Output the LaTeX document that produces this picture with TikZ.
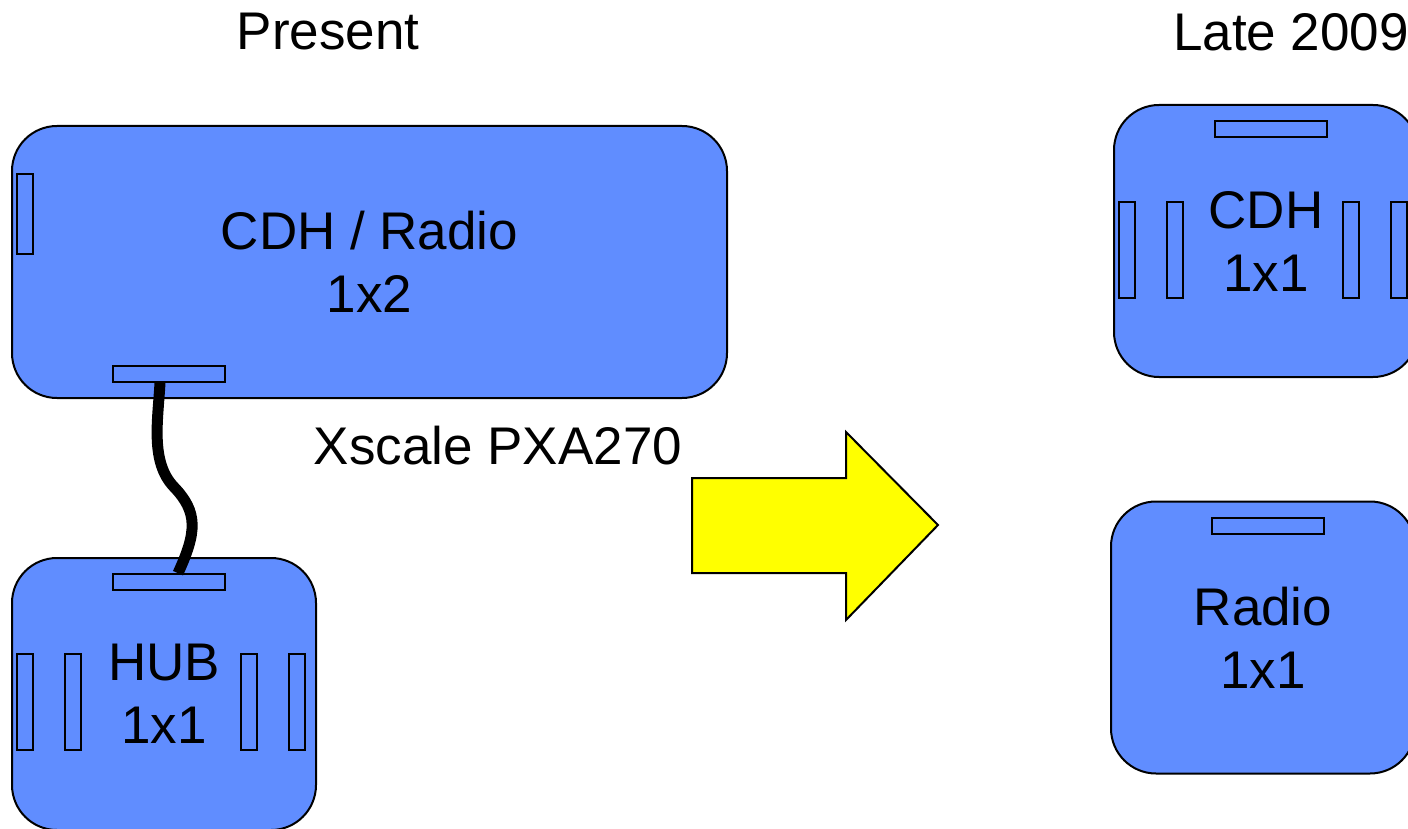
\documentclass[tikz,border=0pt]{standalone}
\usepackage{fontspec}
\setmainfont{Liberation Sans}
\usepackage{xcolor}
\usepackage{tikz}
\usetikzlibrary{positioning}

\definecolor{boardblue}{RGB}{96,141,255}
\definecolor{arrowyellow}{RGB}{255,255,0}

\begin{document}
\begin{tikzpicture}[x=1pt, y=-1pt,
    board/.style={draw, line width=2pt, fill=boardblue, rounded corners=45pt,
      minimum width=304pt, minimum height=272pt, inner sep=0pt, align=center,
      font=\fontsize{53}{63}\selectfont},
    hport/.style={draw, line width=1.6pt, fill=boardblue, inner sep=0pt,
      minimum width=112pt, minimum height=16pt},
    vport/.style={draw, line width=1.6pt, fill=boardblue, inner sep=0pt,
      minimum width=16pt, minimum height=96pt},
    title/.style={font=\fontsize{53}{63}\selectfont}]
        \useasboundingbox (0,0) rectangle (1408,829);
        \clip (0,0) rectangle (1408,829);

        % Headings
        \node[title] (present) at (328,32) {Present};
        \node[title] (late) at (1291,32) {Late 2009};

        % Present boards
        \node[board, minimum width=715pt] (cdhradio) at (369.5,262) {CDH / Radio\\1x2};
        \node[vport, minimum height=80pt] (sideport) at (25,214) {};
        \node[hport] (cdhradioport) at (169,374) {};
        \node[title] (cpu) at (498,446) {Xscale PXA270};

        \node[board] (hub) at (164,694) {HUB\\1x1};
        \node[hport] (hubport) at (169,582) {};
        \foreach \x in {25,73,249,297} {
          \node[vport] (hubside\x) at (\x,702) {};
        }

        % Cable
        \draw[line width=11pt] ([xshift=-9pt]cdhradioport.south) .. controls (158,420) and (150,462) .. (174,487)
          .. controls (198,512) and (197,532) .. ([xshift=9pt]hubport.north);

        % Big arrow
        \draw[line width=2pt, fill=arrowyellow, line join=miter] (692,478) -- (846,478) -- (846,432) -- (938,525)
          -- (846,620) -- (846,573) -- (692,573) -- cycle;

        % Late 2009 boards
        \node[board] (cdh) at (1266,241) {CDH\\1x1};
        \node[hport] (cdhport) at (1271,129) {};
        \foreach \x in {1127,1175,1351,1399} {
          \node[vport] (cdhside\x) at (\x,250) {};
        }

        \node[board] (radio) at (1263,637.5) {Radio\\1x1};
        \node[hport] (radioport) at (1268,526) {};
\end{tikzpicture}
\end{document}
